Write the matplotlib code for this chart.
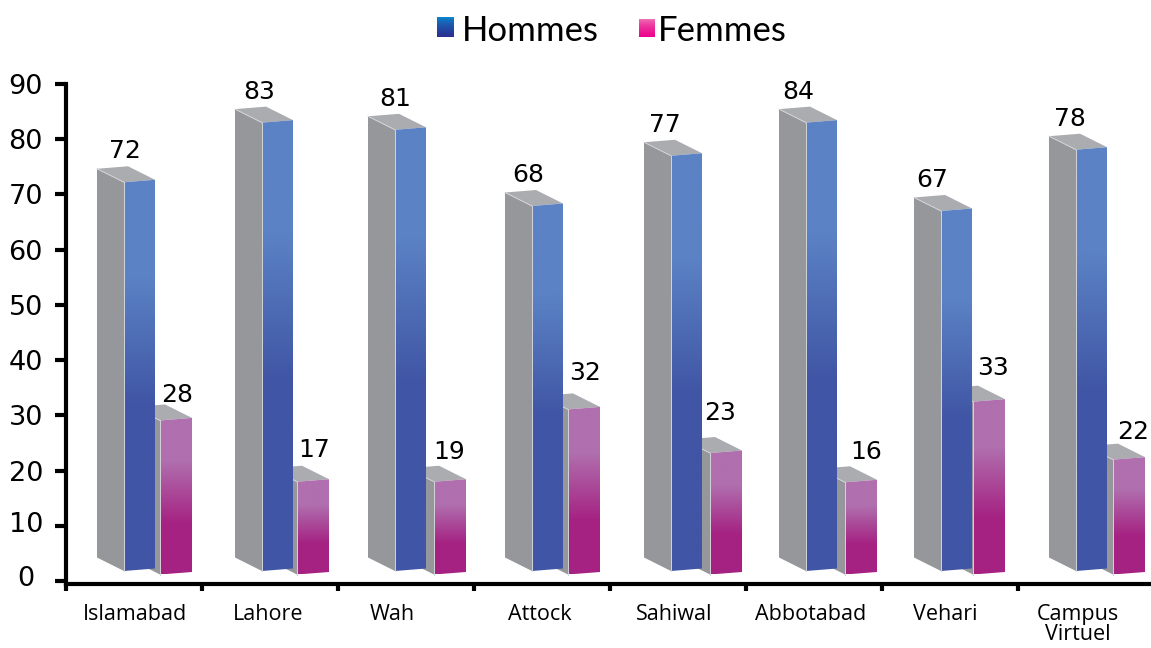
import numpy as np
import matplotlib
matplotlib.use('Agg')
import matplotlib.pyplot as plt
from matplotlib.colors import LinearSegmentedColormap
from matplotlib.patches import Polygon
from matplotlib.transforms import ScaledTranslation

# Chart data
campus = ['Islamabad', 'Lahore', 'Wah', 'Attock', 'Sahiwal', 'Abbotabad', 'Vehari', 'Campus\nVirtuel']
hommes_labels = [72, 83, 81, 68, 77, 84, 67, 78]
femmes_labels = [28, 17, 19, 32, 23, 16, 33, 22]
# drawn heights as they are on the picture, read against the y axis
hommes_height = [70.4, 81.2, 79.9, 66.1, 75.2, 81.2, 65.2, 76.3]
femmes_height = [27.9, 16.8, 16.8, 29.9, 22.0, 16.7, 31.3, 20.8]
y_ticks = [0, 10, 20, 30, 40, 50, 60, 70, 80, 90]

# Layout, all in pixels of the 1151x648 picture
W, H = 1151, 648
ax_left, ax_right, ax_top, ax_bottom = 66, 1150, 84, 584
step_px = 136.0
first_bar_px = 124.0
x_nudge = [0, 2, -1, 0, 3, 2, 1, 0]
pink_nudge = [0, -1, 3, 0, 3, 3, -4, 1]
label_x_px = [135, 268, 392, 540, 674, 811, 945, 1078]
hommes_text_x = [125, 259, 395, 528, 665, 798, 932, 1070]
femmes_text_x = [177, 314, 449, 585, 720, 866, 993, 1133]
femmes_lift = [25, 32, 30, 36, 40, 30, 34, 28]

plt.rcParams['font.family'] = ['Open Sans', 'DejaVu Sans']

fig = plt.figure(figsize=(W / 100, H / 100), dpi=100)
ax = fig.add_axes([ax_left / W, 1 - ax_bottom / H, (ax_right - ax_left) / W, (ax_bottom - ax_top) / H])

ppu = (ax_bottom - ax_top) / 90.55
ax.set_xlim((ax_left - first_bar_px) / step_px, (ax_right - first_bar_px) / step_px)
ax.set_ylim(-0.55, 90)


def px_x(px):
    return (px - first_bar_px) / step_px


blue_cmap = LinearSegmentedColormap.from_list('b', [(0, '#5B82C4'), (0.25, '#5B82C4'), (0.58, '#4055A5'), (1, '#4055A5')])
pink_cmap = LinearSegmentedColormap.from_list('p', [(0, '#B06FAE'), (0.28, '#B06FAE'), (0.68, '#A52282'), (1, '#A52282')])
ramp = np.linspace(0, 1, 256).reshape(-1, 1)

SIDE = '#96979B'
TOP = '#ABACB0'
depth_x = 27 / step_px
depth_y = 13.5 / ppu
slant = 2.5 / ppu


def draw_bar(left, width, base, height, cmap, z):
    right = left + width
    top = base + height
    ax.add_patch(Polygon([(left, base), (left - depth_x, base + depth_y),
                          (left - depth_x, top + depth_y), (left, top)],
                         fc=SIDE, ec='none', zorder=z))
    ax.add_patch(Polygon([(left - depth_x, top + depth_y), (left, top), (right, top + slant),
                          (right - depth_x, top + slant + depth_y)],
                         fc=TOP, ec='none', zorder=z))
    front = Polygon([(left, base), (right, base + slant), (right, top + slant), (left, top)],
                    fc='none', ec='none', zorder=z + 0.1)
    ax.add_patch(front)
    img = ax.imshow(ramp, cmap=cmap, aspect='auto', zorder=z + 0.1, interpolation='bilinear',
                    extent=(left, right, base, top + slant))
    img.set_clip_path(front)
    ax.plot([left, left], [base, top], color='#D4D5DA', lw=0.7, zorder=z + 0.2)
    ax.plot([left - depth_x, left], [top + depth_y, top], color='#D4D5DA', lw=0.7, zorder=z + 0.2)


blue_w = 31 / step_px
pink_w = 32 / step_px
pink_off = 36 / step_px
base_blue = (584 - 571) / ppu - 0.55
base_pink = (584 - 574.5) / ppu - 0.55

for i in range(len(campus)):
    x0 = i + x_nudge[i] / step_px
    draw_bar(x0 + pink_off + pink_nudge[i] / step_px, pink_w, base_pink, femmes_height[i], pink_cmap, 2 + i * 0.01)
    draw_bar(x0, blue_w, base_blue, hommes_height[i], blue_cmap, 3 + i * 0.01)
    ax.annotate(str(hommes_labels[i]), (px_x(hommes_text_x[i]), base_blue + hommes_height[i]),
                xytext=(0, 31 * 0.72), textcoords='offset points', ha='center', va='center',
                fontsize=18, family=['DejaVu Sans'], annotation_clip=False, zorder=6)
    ax.annotate(str(femmes_labels[i]), (px_x(femmes_text_x[i]), base_pink + femmes_height[i]),
                xytext=(0, femmes_lift[i] * 0.72), textcoords='offset points', ha='center', va='center',
                fontsize=18, family=['DejaVu Sans'], annotation_clip=False, zorder=6)

ax.set_xlim((ax_left - first_bar_px) / step_px, (ax_right - first_bar_px) / step_px)
ax.set_ylim(-0.55, 90)

# Axes
for s in ['top', 'right']:
    ax.spines[s].set_visible(False)
for s in ['left', 'bottom']:
    ax.spines[s].set_linewidth(3)
    ax.spines[s].set_zorder(8)

ax.set_yticks(y_ticks)
ax.set_yticklabels([str(v) for v in y_ticks], fontsize=19.5, family=['DejaVu Sans'], ha='center')
ax.tick_params(axis='y', length=8, width=3, pad=21)
for lab, dy in zip(ax.get_yticklabels(), [5, 4, 0, 0, 0, 0, 0, 0, 0, 0]):
    lab.set_transform(lab.get_transform() + ScaledTranslation(0, dy * 0.72 / 72, fig.dpi_scale_trans))

ax.set_xticks([px_x(66 + step_px * i) for i in range(8)])
ax.set_xticklabels([])
ax.tick_params(axis='x', length=5, width=3)

for i, name in enumerate(campus):
    ax.text(label_x_px[i] / W, 1 - 604 / H, name, transform=fig.transFigure, ha='center', va='top',
            fontsize=15.5, linespacing=0.95)

# Legend, hand placed on top of the chart
for (x0, y0, x1, y1), c_top, c_bot in [((437, 17, 454, 37), '#0A8FD8', '#2B2F8F'),
                                       ((639, 19, 655, 37), '#EE7DB8', '#EC008C')]:
    lax = fig.add_axes([x0 / W, 1 - y1 / H, (x1 - x0) / W, (y1 - y0) / H])
    cm = LinearSegmentedColormap.from_list('l', [c_top, c_bot])
    lax.imshow(ramp ** 0.6, cmap=cm, aspect='auto')
    lax.axis('off')

fig.text(530 / W, 1 - 31 / H, 'Hommes', ha='center', va='center', fontsize=25, family=['Lato'])
fig.text(722 / W, 1 - 31 / H, 'Femmes', ha='center', va='center', fontsize=25, family=['Lato'])

fig.savefig('out.png', dpi=100)
